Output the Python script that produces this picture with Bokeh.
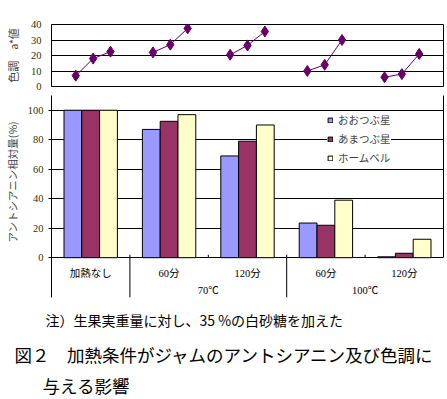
from bokeh.plotting import figure
from bokeh.models import (FactorRange, Range1d, FixedTicker, LinearAxis, Title,
                          ColumnDataSource)
from bokeh.transform import dodge
from bokeh.core.properties import value
from bokeh.layouts import column
from bokeh.embed import file_html
from bokeh.resources import INLINE

# ---------------- data ----------------
conditions = ["加熱なし", "70℃ 60分", "70℃ 120分", "100℃ 60分", "100℃ 120分"]
time_labels = ["加熱なし", "60分", "120分", "60分", "120分"]
temp_labels = ["", "70℃", "70℃", "100℃", "100℃"]
varieties = ["おおつぶ星", "あまつぶ星", "ホームベル"]

# アントシアニン相対量 (%)
antho_ootsubu = [100, 87, 69, 23.5, 0.6]
antho_amatsubu = [100, 92.5, 79, 22, 3]
antho_homebell = [100, 97, 90, 39, 12.5]

# 色調 a*値
color_ootsubu = [7, 22, 20.5, 10, 6]
color_amatsubu = [18, 27, 26.5, 14, 8]
color_homebell = [22.5, 37.5, 35.5, 30, 21]

top_ticks = [0, 10, 20, 30, 40]
bottom_ticks = [0, 20, 40, 60, 80, 100]

note_text = "注）生果実重量に対し、35 %の白砂糖を加えた"
title_line1 = "図２　加熱条件がジャムのアントシアニン及び色調に"
title_line2 = "与える影響"

# ---------------- styles ----------------
bar_colors = ["#9999FF", "#993366", "#FFFFCC"]
line_color = "#660066"
JP = "Noto Sans CJK JP"
NUM = "Liberation Serif, Noto Sans CJK JP"
W = 447
LEFT = 46
RIGHT = 4
TICK_COLOR = "#333300"

# ---------------- top chart (a*) ----------------
top_factors = [(c, v) for c in conditions for v in varieties]
x_top = FactorRange(*top_factors, group_padding=1.45, range_padding=0.9,
                    range_padding_units="absolute")
p1 = figure(width=W, height=91, x_range=x_top, y_range=Range1d(0, 40),
            output_backend="svg", toolbar_location=None, x_axis_location=None,
            min_border_left=LEFT, min_border_right=RIGHT, min_border_top=24,
            min_border_bottom=5, outline_line_color="black",
            background_fill_color="white", border_fill_color="white")
p1.yaxis.ticker = FixedTicker(ticks=top_ticks)
p1.ygrid.ticker = FixedTicker(ticks=top_ticks)
p1.ygrid.grid_line_color = "black"
p1.xgrid.visible = False
ax = p1.yaxis[0]
ax.major_tick_out = 0
ax.major_tick_in = 0
ax.minor_tick_out = 0
ax.minor_tick_in = 0
ax.axis_line_color = "black"
ax.major_label_standoff = 10
ax.major_label_text_font = NUM
ax.major_label_text_font_size = "10.5px"
ax.major_label_text_color = TICK_COLOR
p1.add_layout(Title(text="色調　a*値", align="center", vertical_align="top",
                    text_font=JP, text_font_size="11px",
                    text_font_style="normal", standoff=9), "left")

top_series = [color_ootsubu, color_amatsubu, color_homebell]
for i, c in enumerate(conditions):
    xs = [(c, v) for v in varieties]
    ys = [s[i] for s in top_series]
    p1.line(xs, ys, line_color=line_color, line_width=1)
    p1.scatter(xs, ys, marker="diamond", size=11, fill_color=line_color,
               line_color=line_color)

# ---------------- bottom chart (anthocyanin) ----------------
x_bot = FactorRange(*conditions)
p2 = figure(width=W, height=250, x_range=x_bot, y_range=Range1d(-27, 110),
            output_backend="svg", toolbar_location=None, x_axis_location=None,
            min_border_left=LEFT, min_border_right=RIGHT, min_border_top=4,
            min_border_bottom=44, outline_line_color=None,
            background_fill_color="white", border_fill_color="white")
ay = p2.yaxis[0]
ay.ticker = FixedTicker(ticks=bottom_ticks)
ay.major_tick_out = 3
ay.major_tick_in = 0
ay.minor_tick_out = 0
ay.minor_tick_in = 0
ay.axis_line_color = "black"
ay.major_tick_line_color = "black"
ay.major_label_standoff = 5
ay.major_label_text_font = NUM
ay.major_label_text_font_size = "10.5px"
ay.major_label_text_color = TICK_COLOR
p2.ygrid.ticker = FixedTicker(ticks=bottom_ticks)
p2.ygrid.grid_line_color = "black"
p2.xgrid.visible = False
p2.add_layout(Title(text="アントシアニン相対量(%)", align="left", offset=55,
                    vertical_align="top", text_font=JP,
                    text_font_size="10.5px", text_font_style="normal",
                    standoff=6), "left")

right_axis = LinearAxis(ticker=FixedTicker(ticks=[]), bounds=(0, 110),
                        major_tick_out=0, major_tick_in=0, minor_tick_out=0,
                        minor_tick_in=0, major_label_standoff=0,
                        axis_line_color="black")
p2.add_layout(right_axis, "right")

src = ColumnDataSource(dict(cond=conditions, oo=antho_ootsubu,
                            am=antho_amatsubu, hb=antho_homebell,
                            time=time_labels))
bar_w = 0.227
for field, k, col, name in zip(["oo", "am", "hb"], [-1, 0, 1], bar_colors,
                               varieties):
    p2.vbar(x=dodge("cond", k * bar_w, range=x_bot), top=field, bottom=0,
            width=bar_w, source=src, fill_color=col, line_color="black",
            line_width=1, legend_label=name)

leg = p2.legend[0]
leg.location = (276, 132)
leg.background_fill_color = "white"
leg.background_fill_alpha = 1
leg.border_line_color = None
leg.padding = 3
leg.margin = 0
leg.spacing = 4
leg.glyph_width = 6
leg.glyph_height = 6
leg.label_height = 11
leg.label_standoff = 5
leg.label_text_font = JP
leg.label_text_font_size = "10.5px"

# category labels below the 0 line
ROW1 = -10.7
ROW2 = -22.2
p2.text(x="cond", y=ROW1, text="time", source=src, text_align="center",
        text_baseline="middle", text_font=value(NUM),
        text_font_size="10.5px", text_color="black")
groups = []
for t in temp_labels:
    if t and t not in groups:
        groups.append(t)
centers = []
for g in groups:
    idx = [i for i, t in enumerate(temp_labels) if t == g]
    centers.append(sum(i + 0.5 for i in idx) / len(idx))
p2.text(x=centers, y=[ROW2] * len(centers), text=groups, text_align="center",
        text_baseline="middle", text_font=value(NUM),
        text_font_size="10.5px", text_color="black")

# separators / ticks between categories
inner = list(range(1, len(conditions)))
p2.segment(x0=inner, y0=[0] * len(inner), x1=inner, y1=[2] * len(inner),
           line_color="black", line_width=1)
group_bounds = [i for i in inner if temp_labels[i] != temp_labels[i - 1]]
p2.segment(x0=group_bounds, y0=[0] * len(group_bounds), x1=group_bounds,
           y1=[-27] * len(group_bounds), line_color="black", line_width=1)

# note (below the bar chart)
p2.add_layout(Title(text=note_text, align="left", offset=-6,
                    vertical_align="bottom", text_font=JP,
                    text_font_size="14px", text_font_style="normal",
                    text_color="black", standoff=21), "below")

# ---------------- caption ----------------
p3 = figure(width=W, height=58, x_range=Range1d(0, 1), y_range=Range1d(0, 1),
            output_backend="svg", toolbar_location=None, x_axis_location=None,
            y_axis_location=None, min_border_left=LEFT,
            min_border_right=RIGHT, min_border_top=25, min_border_bottom=25,
            outline_line_color=None, background_fill_color="white",
            border_fill_color="white")
p3.grid.visible = False
p3.add_layout(Title(text=title_line1, align="left", offset=-37,
                    vertical_align="top", text_font=JP,
                    text_font_size="17.5px", text_font_style="normal",
                    text_color="black", standoff=0), "above")
p3.add_layout(Title(text=title_line2, align="left", offset=-9,
                    vertical_align="top", text_font=JP,
                    text_font_size="17.5px", text_font_style="normal",
                    text_color="black", standoff=0), "below")

layout = column(p1, p2, p3)
open("out.html", "w").write(file_html(layout, INLINE))
